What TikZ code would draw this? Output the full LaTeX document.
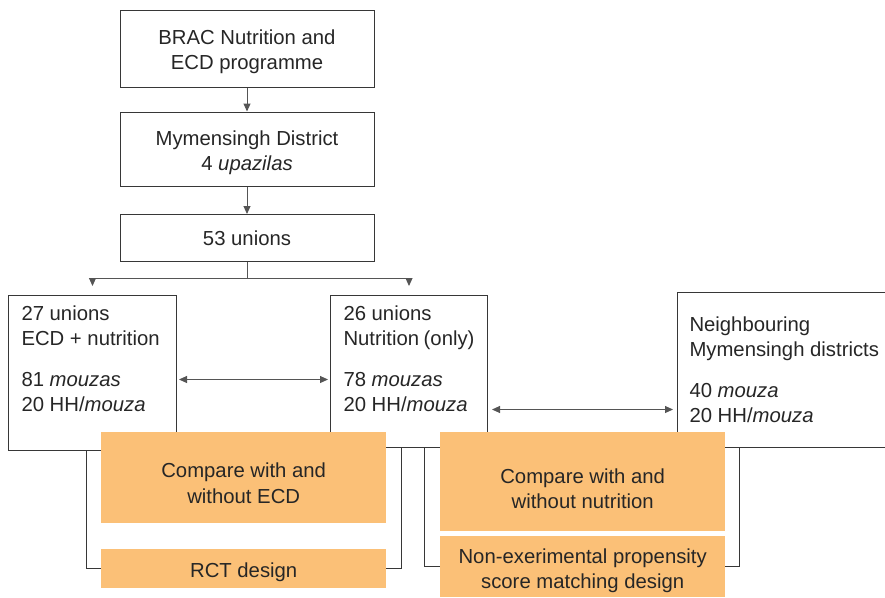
\documentclass[tikz,border=0pt]{standalone}
\usepackage{fontspec}
\setmainfont{Liberation Sans}
\usepackage{tikz}
\usetikzlibrary{arrows.meta, positioning, calc, backgrounds}
\definecolor{boxline}{RGB}{55,55,55}
\definecolor{arrgray}{RGB}{85,85,85}
\definecolor{designorange}{RGB}{251,192,119}
\newcommand{\padtop}[1]{\rule{0pt}{#1}}

\begin{document}
\begin{tikzpicture}[x=1pt, y=-1pt,
  every node/.style={font=\fontsize{20.3}{25.5}\selectfont, text=black!85},
  stage/.style={draw=boxline, line width=1pt, fill=white, minimum width=254pt, align=center, inner sep=0pt},
  arm/.style={draw=boxline, line width=1pt, fill=white, anchor=north west, inner xsep=13pt, inner ysep=10pt},
  design/.style={fill=designorange, anchor=north west, minimum width=285pt, align=center, inner sep=0pt},
  flow/.style={-{Triangle[length=8pt,width=7pt]}, arrgray, line width=1pt},
  both/.style={{Triangle[length=8pt,width=7pt]}-{Triangle[length=8pt,width=7pt]}, arrgray, line width=1pt},
  link/.style={boxline, line width=1pt},
]
  \clip (0,0) rectangle (885,597);

  % Programme levels
  \node[stage, minimum height=77pt] (brac) at (247,48.5) {\padtop{21pt}BRAC Nutrition and\\ECD programme};
  \node[stage, minimum height=74pt] (dist) at (247,149) {\padtop{22pt}Mymensingh District\\4 \textit{upazilas}};
  \node[stage, minimum height=47pt] (unions) at (247,238) {53 unions};

  % Study arms
  \node[arm] (ecd) at (8,295) {\parbox[t][135pt][t]{142pt}{27 unions\\ECD + nutrition\\[15pt]81 \textit{mouzas}\\20 HH/\textit{mouza}}};
  \node[arm] (nutr) at (330,295) {\parbox[t][132pt][t]{131pt}{26 unions\\Nutrition (only)\\[15pt]78 \textit{mouzas}\\20 HH/\textit{mouza}}};
  \node[arm, inner xsep=12pt, inner ysep=24pt] (nbr) at (677,292) {\parbox[t][107pt][t]{210pt}{Neighbouring\\Mymensingh districts\\[15pt]40 \textit{mouza}\\20 HH/\textit{mouza}}};

  % Comparisons
  \node[design, minimum height=91pt] (cmpecd) at (101,432) {\padtop{26pt}Compare with and\\without ECD};
  \node[design, minimum height=39pt] (rct) at (101,549) {\padtop{21pt}RCT design};
  \node[design, minimum height=99pt] (cmpnut) at (440,432) {\padtop{29pt}Compare with and\\without nutrition};
  \node[design, minimum height=61pt] (psm) at (440,536) {\padtop{23pt}Non-exerimental propensity\\score matching design};

  % Connections
  \draw[flow] (brac) -- (dist);
  \draw[flow] (dist) -- (unions);
  \draw[flow, shorten >=9pt] (unions.south) -- ++(0,16) -| (ecd.north);
  \draw[flow, shorten >=9pt] (unions.south) -- ++(0,16) -| (nutr.north);
  \draw[both, shorten <=2pt, shorten >=2pt] ($(ecd.east)+(0,6.5)$) -- ($(ecd.east -| nutr.west)+(0,6.5)$);
  \draw[both, shorten <=4pt, shorten >=4pt] ($(nutr.east)+(0,38)$) -- ($(nutr.east -| nbr.west)+(0,38)$);

  % Design brackets
  \begin{pgfonlayer}{background}
    \draw[link] ($(ecd.south)+(-6,0)$) |- (rct.west);
    \draw[link] ($(nutr.south)+(-7.5,0)$) |- (rct.east);
    \draw[link] ($(nutr.south)+(15.5,0)$) |- (psm.west);
    \draw[link] ($(nbr.south west)+(62,0)$) |- (psm.east);
  \end{pgfonlayer}
\end{tikzpicture}
\end{document}
